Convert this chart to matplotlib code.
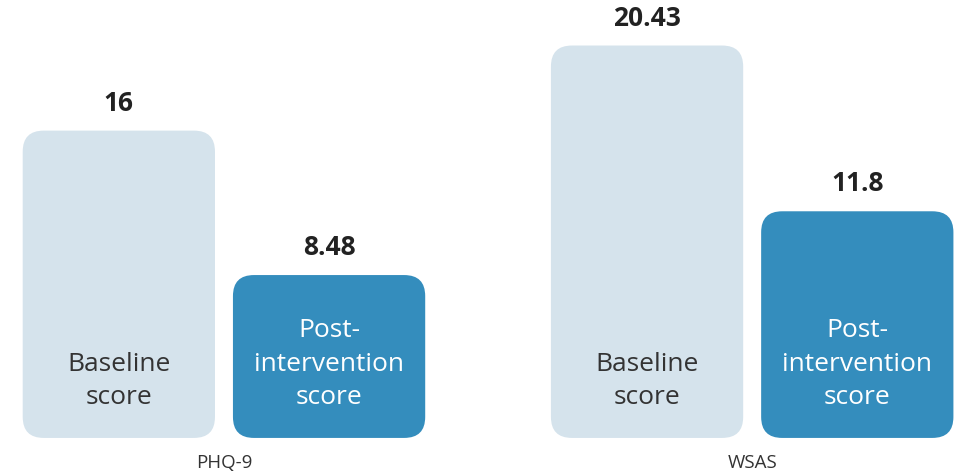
import numpy as np
import matplotlib.pyplot as plt
from matplotlib.patches import FancyBboxPatch

plt.rcParams['font.family'] = ['Open Sans', 'DejaVu Sans']

# ---------------- data ----------------
groups = ['PHQ-9', 'WSAS']
baseline = [16, 20.43]
post = [8.48, 11.8]
baseline_lbl = ['16', '20.43']
post_lbl = ['8.48', '11.8']
series_names = ['Baseline\nscore', 'Post-\nintervention\nscore']

LIGHT = '#d5e3ec'
DARK = '#348dbd'

fig = plt.figure(figsize=(9.55, 4.75), dpi=100)
ax = fig.add_axes([0, 0, 1, 1])
ax.set_xlim(-0.424, 1.384)
ax.set_ylim(-1.93, 22.8)
ax.axis('off')

x = np.arange(len(groups))
off, w = 0.199, 0.364
b1 = ax.bar(x - off, baseline, w, color=LIGHT)
b2 = ax.bar(x + off, post, w, color=DARK)

# pixel -> data aspect so corners come out circular
fig.canvas.draw()
p0 = ax.transData.inverted().transform((0, 0))
p1 = ax.transData.inverted().transform((1, 1))
xpp, ypp = p1[0] - p0[0], p1[1] - p0[1]
aspect = ypp / xpp
radius = 21 * xpp

for bars in (b1, b2):
    for r in bars:
        bx, by, bw, bh = r.get_x(), r.get_y(), r.get_width(), r.get_height()
        patch = FancyBboxPatch((bx, by), bw, bh,
                               boxstyle=f"round,pad=0,rounding_size={radius}",
                               mutation_aspect=aspect,
                               facecolor=r.get_facecolor(), edgecolor='none')
        r.remove()
        ax.add_patch(patch)

for i in range(len(groups)):
    for xi, v, lbl, name, tc in [(x[i] - off, baseline[i], baseline_lbl[i], series_names[0], '#333333'),
                                 (x[i] + off, post[i], post_lbl[i], series_names[1], 'white')]:
        ax.annotate(lbl, (xi, v), xytext=(0, 10), textcoords='offset points',
                    ha='center', va='bottom', fontsize=19, fontweight='bold',
                    color='#222222')
        ax.annotate(name, (xi, 0), xytext=(0, 20), textcoords='offset points',
                    ha='center', va='bottom', fontsize=19, color=tc,
                    linespacing=1.45)
    ax.annotate(groups[i], (x[i], 0), xytext=(0, -18), textcoords='offset points',
                ha='center', va='center', fontsize=13.5, color='#333333')

fig.savefig('out.png', dpi=100)
